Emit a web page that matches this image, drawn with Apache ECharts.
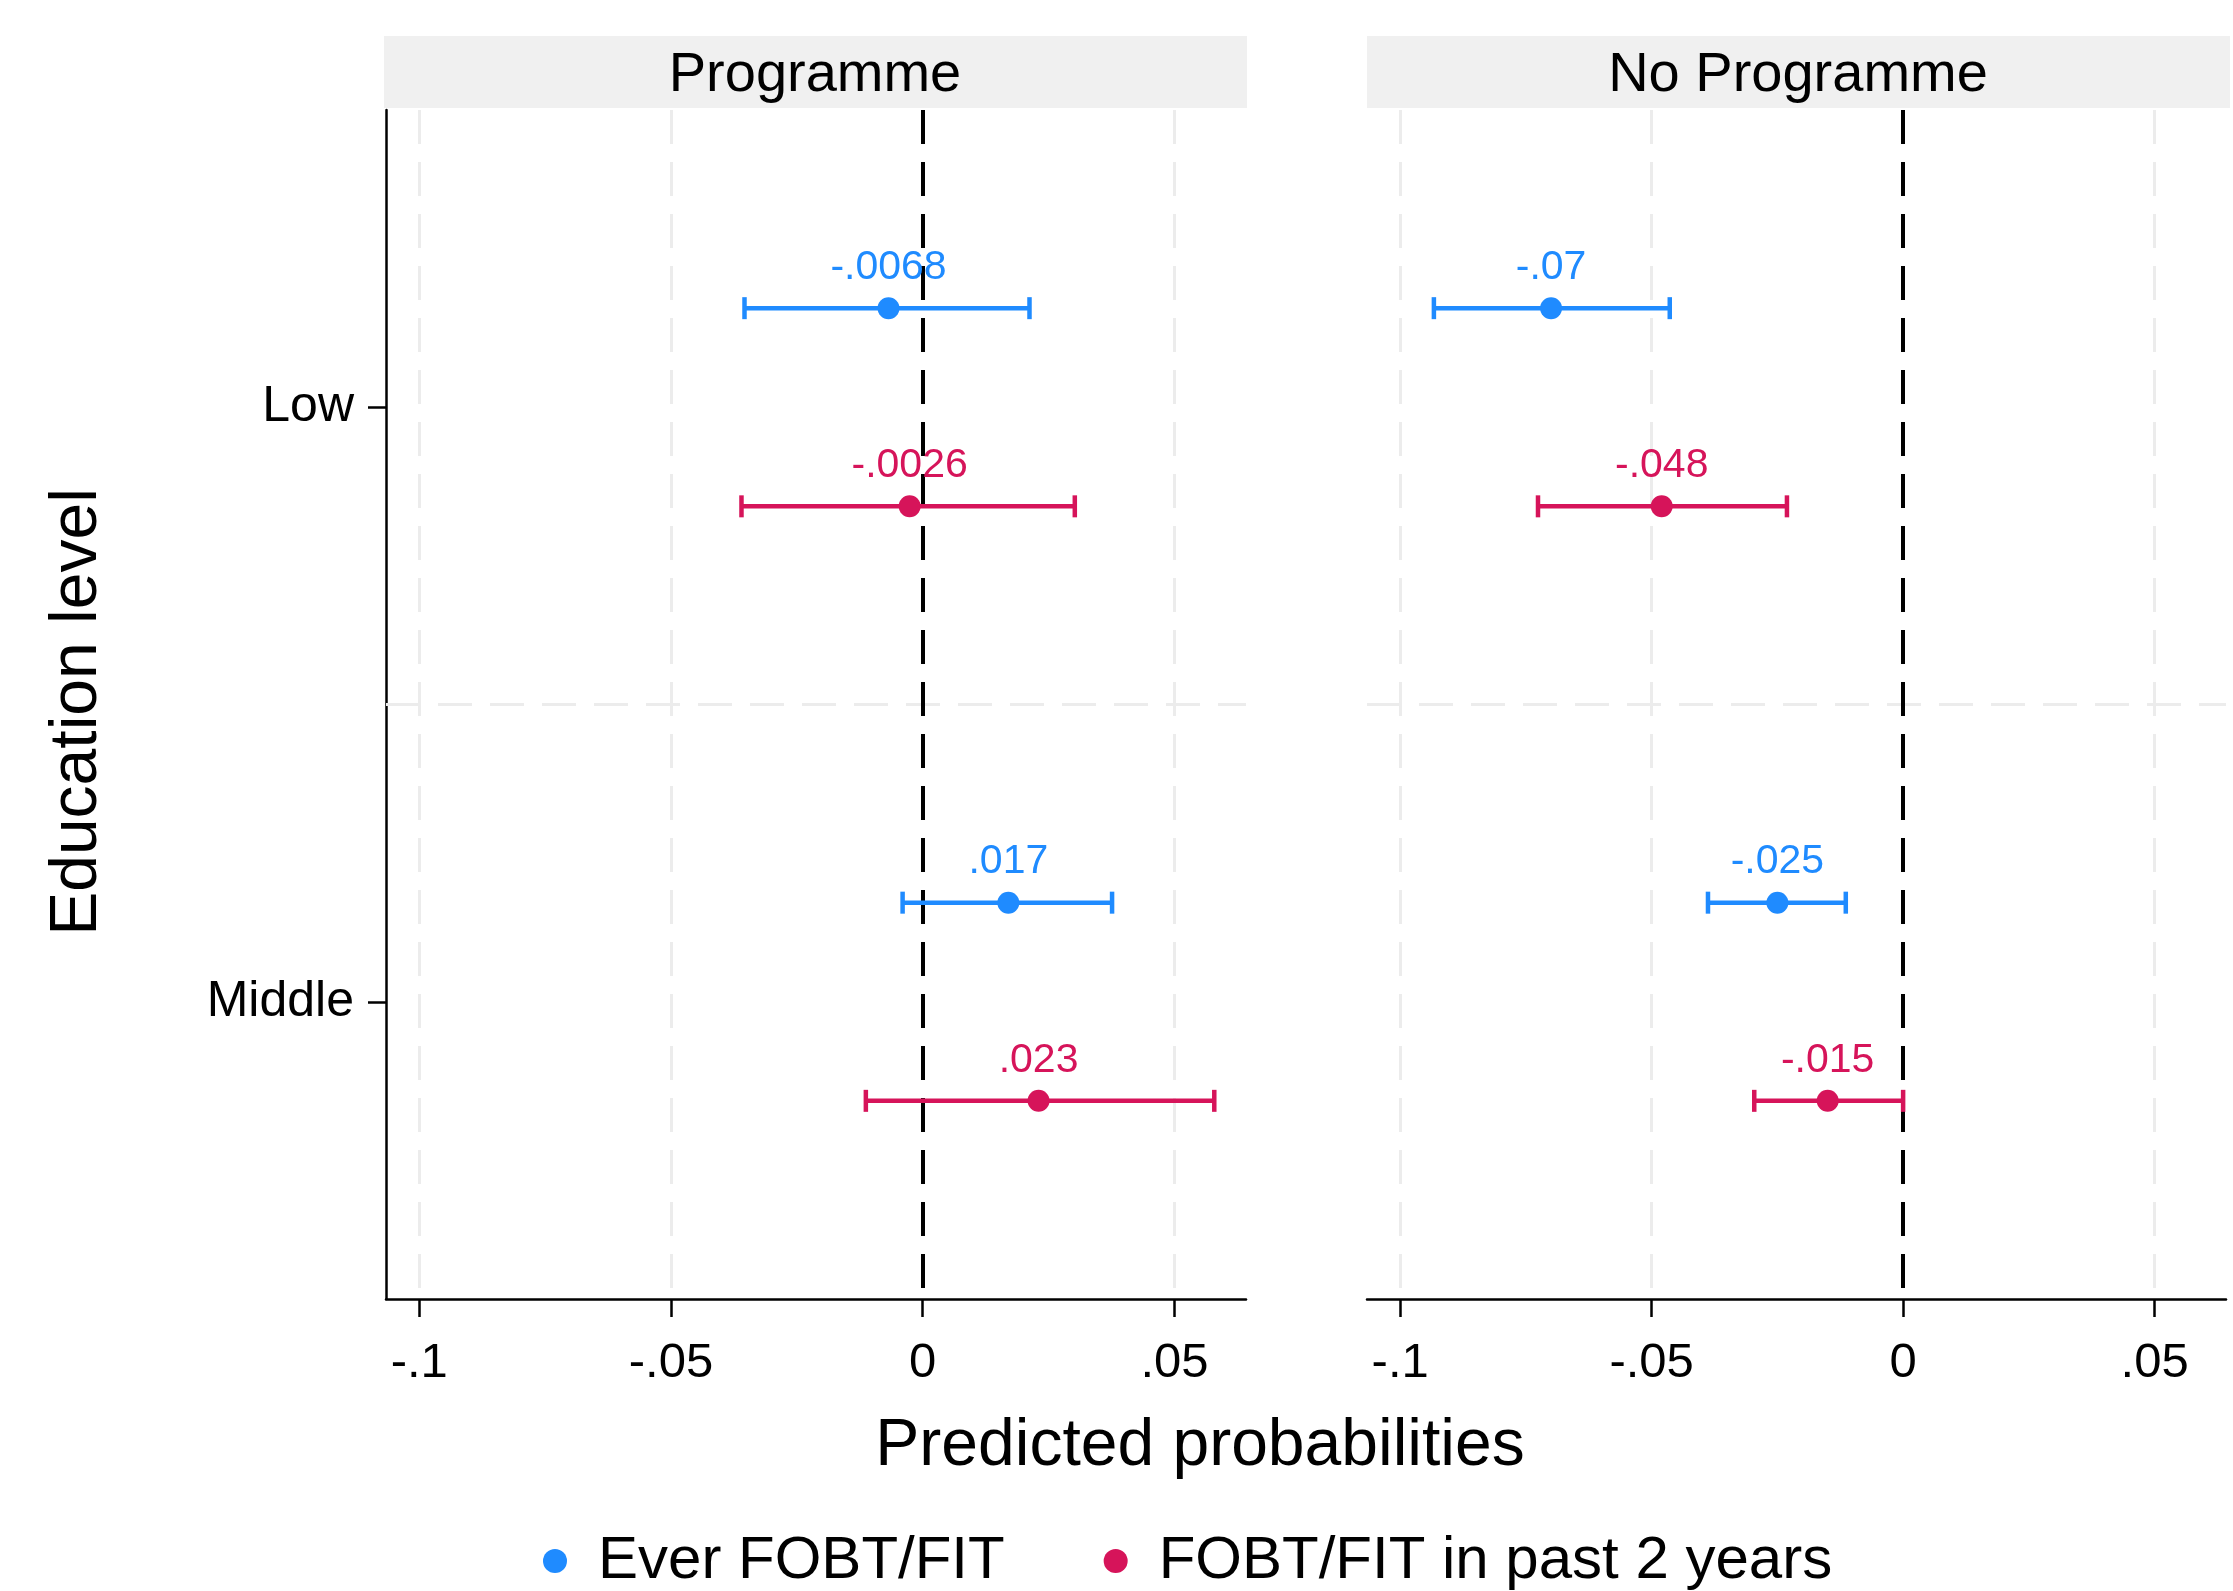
<!DOCTYPE html>
<html>
<head>
<meta charset="utf-8">
<script src="https://cdn.jsdelivr.net/npm/echarts@6/dist/echarts.min.js"></script>
<style>
  html, body { margin: 0; padding: 0; background: #fff; }
  #chart { width: 2233px; height: 1591px; }
</style>
</head>
<body>
<div id="chart"></div>
<script>
// Data
const categories = ['Low', 'Middle'];
const panels = ['Programme', 'No Programme'];
const seriesNames = ['Ever FOBT/FIT', 'FOBT/FIT in past 2 years'];
const xTicks = [-0.1, -0.05, 0, 0.05];

// Programme panel
const everProg = [-0.0068, 0.017];
const everProgLo = [-0.0354, -0.004];
const everProgHi = [0.0212, 0.0376];
const pastProg = [-0.0026, 0.023];
const pastProgLo = [-0.036, -0.0113];
const pastProgHi = [0.0302, 0.0579];

// No Programme panel
const everNo = [-0.07, -0.025];
const everNoLo = [-0.0933, -0.0388];
const everNoHi = [-0.0464, -0.0114];
const pastNo = [-0.048, -0.015];
const pastNoLo = [-0.0726, -0.0296];
const pastNoHi = [-0.0231, 0.0];

const blue = '#1f8bff';
const red = '#d6145a';
const font = 'Liberation Sans, Arial, sans-serif';
const dash = [34, 18];

const chart = echarts.init(document.getElementById('chart'));

function fmt(v) {
    if (v === 0) return '0';
    return String(v).replace('0.', '.');
}

// y position: category index 1, 2 with the two measures shifted up/down
function points(vals, shift) {
    return vals.map((v, i) => [v, i + 1 + shift]);
}
function bars(lo, hi, shift) {
    return lo.map((l, i) => [i + 1 + shift, l, hi[i]]);
}

function errorBar(color) {
    return function (params, api) {
        const y = api.value(0);
        const a = api.coord([api.value(1), y]);
        const b = api.coord([api.value(2), y]);
        const style = { stroke: color, lineWidth: 4.5 };
        const h = 11;
        return {
            type: 'group',
            children: [
                { type: 'line', shape: { x1: a[0], y1: a[1], x2: b[0], y2: b[1] }, style: style },
                { type: 'line', shape: { x1: a[0], y1: a[1] - h, x2: a[0], y2: a[1] + h }, style: style },
                { type: 'line', shape: { x1: b[0], y1: b[1] - h, x2: b[0], y2: b[1] + h }, style: style }
            ]
        };
    };
}

const up = -1 / 6;
const down = 1 / 6;

function panelSeries(idx, ever, everLo, everHi, past, pastLo, pastHi) {
    const refLines = xTicks.map(v => ({
        xAxis: v,
        lineStyle: { color: '#ececec', width: 3, type: dash }
    }));
    refLines.push({ yAxis: 1.5, lineStyle: { color: '#ececec', width: 3, type: dash } });
    refLines.push({ xAxis: 0, lineStyle: { color: '#000', width: 4, type: dash } });
    return [
        {
            type: 'custom',
            xAxisIndex: idx,
            yAxisIndex: idx,
            renderItem: errorBar(blue),
            encode: { x: [1, 2], y: 0 },
            data: bars(everLo, everHi, up),
            z: 3,
            silent: true,
            markLine: {
                silent: true,
                symbol: ['none', 'none'],
                label: { show: false },
                data: refLines,
                z: 1
            }
        },
        {
            type: 'custom',
            xAxisIndex: idx,
            yAxisIndex: idx,
            renderItem: errorBar(red),
            encode: { x: [1, 2], y: 0 },
            data: bars(pastLo, pastHi, down),
            z: 3,
            silent: true
        },
        {
            name: seriesNames[0],
            type: 'scatter',
            xAxisIndex: idx,
            yAxisIndex: idx,
            symbolSize: 22,
            itemStyle: { color: blue, opacity: 1 },
            data: points(ever, up),
            z: 4,
            label: {
                show: true,
                position: 'top',
                distance: 9,
                color: blue,
                fontSize: 41,
                fontFamily: font,
                formatter: p => fmt(p.value[0])
            }
        },
        {
            name: seriesNames[1],
            type: 'scatter',
            xAxisIndex: idx,
            yAxisIndex: idx,
            symbolSize: 22,
            itemStyle: { color: red, opacity: 1 },
            data: points(past, down),
            z: 4,
            label: {
                show: true,
                position: 'top',
                distance: 9,
                color: red,
                fontSize: 41,
                fontFamily: font,
                formatter: p => fmt(p.value[0])
            }
        }
    ];
}

function xAxisFor(idx) {
    return {
        type: 'value',
        gridIndex: idx,
        min: -0.1066,
        max: 0.0642,
        axisLine: { show: true, onZero: false, lineStyle: { color: '#000', width: 2.5 } },
        axisTick: { show: true, customValues: xTicks, length: 18, lineStyle: { color: '#000', width: 2.5 } },
        axisLabel: {
            customValues: xTicks,
            formatter: v => fmt(v),
            color: '#000',
            fontSize: 49,
            fontFamily: font,
            margin: 40
        },
        splitLine: { show: false }
    };
}

function yAxisFor(idx) {
    const left = idx === 0;
    return {
        type: 'value',
        gridIndex: idx,
        inverse: true,
        min: 0.5,
        max: 2.5,
        axisLine: { show: left, onZero: false, lineStyle: { color: '#000', width: 2.5 } },
        axisTick: { show: left, customValues: [1, 2], length: 18, lineStyle: { color: '#000', width: 2.5 } },
        axisLabel: {
            show: left,
            customValues: [1, 2],
            formatter: v => categories[Math.round(v) - 1] || '',
            color: '#000',
            fontSize: 50,
            fontFamily: font,
            margin: 32
        },
        splitLine: { show: false }
    };
}

const option = {
    animation: false,
    backgroundColor: '#fff',
    textStyle: { fontFamily: font },
    grid: [
        { left: 386, right: 987, top: 110, bottom: 292 },
        { left: 1367, right: 7, top: 110, bottom: 292 }
    ],
    xAxis: [xAxisFor(0), xAxisFor(1)],
    yAxis: [yAxisFor(0), yAxisFor(1)],
    legend: {
        data: seriesNames.map(n => ({ name: n, icon: 'circle' })),
        left: 538,
        top: 1526,
        itemWidth: 24,
        itemHeight: 24,
        itemGap: 99,
        selectedMode: false,
        textStyle: {
            color: '#000',
            fontSize: 60,
            fontFamily: font,
            padding: [0, 0, 0, 26]
        }
    },
    graphic: [
        { type: 'rect', shape: { x: 384, y: 36, width: 863, height: 72 }, style: { fill: '#f0f0f0' } },
        { type: 'rect', shape: { x: 1367, y: 36, width: 863, height: 72 }, style: { fill: '#f0f0f0' } },
        {
            type: 'text',
            style: { x: 815, y: 76, text: panels[0], fontSize: 56, fontFamily: font, fill: '#000', textAlign: 'center', textVerticalAlign: 'middle' }
        },
        {
            type: 'text',
            style: { x: 1798, y: 76, text: panels[1], fontSize: 56, fontFamily: font, fill: '#000', textAlign: 'center', textVerticalAlign: 'middle' }
        },
        {
            type: 'text',
            style: { x: 1200, y: 1447, text: 'Predicted probabilities', fontSize: 66, fontFamily: font, fill: '#000', textAlign: 'center', textVerticalAlign: 'middle' }
        },
        {
            type: 'text',
            x: 78,
            y: 712,
            rotation: Math.PI / 2,
            style: { x: 0, y: 0, text: 'Education level', fontSize: 66, fontFamily: font, fill: '#000', textAlign: 'center', textVerticalAlign: 'middle' }
        }
    ],
    series: [].concat(
        panelSeries(0, everProg, everProgLo, everProgHi, pastProg, pastProgLo, pastProgHi),
        panelSeries(1, everNo, everNoLo, everNoHi, pastNo, pastNoLo, pastNoHi)
    )
};

chart.setOption(option);
</script>
</body>
</html>
